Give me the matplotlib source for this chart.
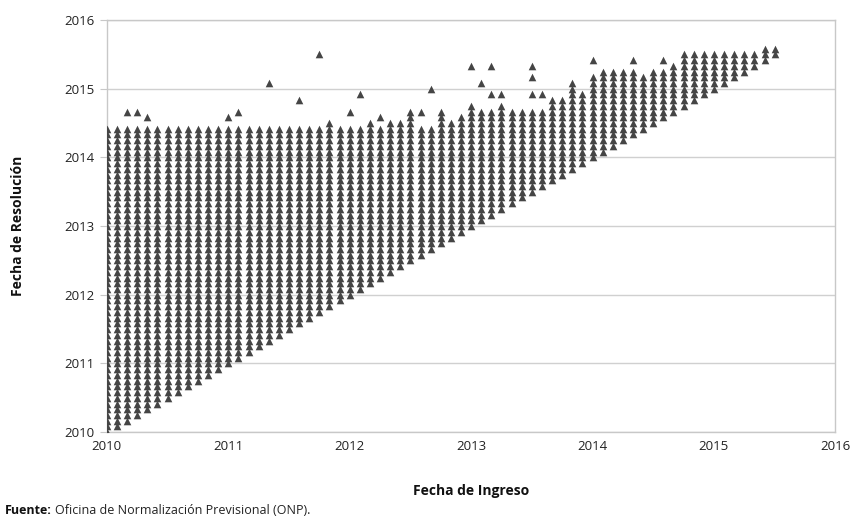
import matplotlib
matplotlib.use("Agg")
import matplotlib.pyplot as plt
import numpy as np

plt.rcParams['font.family'] = ['Open Sans', 'DejaVu Sans']

# Entry month of each column (months since Jan 2010)
ingreso_mes = list(range(0, 67))
# Latest resolution month reached by each entry month (months since Jan 2010)
resol_max_mes = [53, 53, 53, 53, 53, 53, 53, 53, 53, 53, 53, 53,
                 53, 53, 53, 53, 53, 53, 53, 53, 53, 53, 54, 53,
                 53, 53, 54, 53, 54, 54, 56, 53, 53, 56, 54, 55,
                 57, 56, 56, 57, 56, 56, 56, 56, 58, 58, 61, 59,
                 62, 63, 63, 63, 63, 62, 63, 63, 64, 66, 66, 66,
                 66, 66, 66, 66, 66, 67, 67]
# Isolated late resolutions (entry month, resolution month)
aislado_ingreso = [2, 3, 4, 12, 13, 16, 19, 21, 24, 25, 27, 31, 32,
                   36, 37, 38, 38, 39, 42, 42, 42, 43, 48, 52, 55]
aislado_resol = [56, 56, 55, 55, 56, 61, 58, 66, 56, 59, 55, 56, 60,
                 64, 61, 64, 59, 59, 64, 62, 59, 59, 65, 65, 65]

anio_base = 2010
ticks_anios = [2010, 2011, 2012, 2013, 2014, 2015, 2016]

xs, ys = [], []
for m, top in zip(ingreso_mes, resol_max_mes):
    for k in range(m, top + 1):
        xs.append(anio_base + m / 12)
        ys.append(anio_base + k / 12)
for m, k in zip(aislado_ingreso, aislado_resol):
    xs.append(anio_base + m / 12)
    ys.append(anio_base + k / 12)

fig = plt.figure(figsize=(8.55, 5.2), dpi=100)
ax = fig.add_axes([0.125, 0.169, 0.852, 0.7925])

ax.scatter(xs, ys, marker='^', s=30, color='#454545', linewidths=0, zorder=3)

ax.set_xlim(2010, 2016)
ax.set_ylim(2010, 2016)
ax.set_xticks(ticks_anios)
ax.set_yticks(ticks_anios)
ax.set_xticklabels([str(t) for t in ticks_anios])
ax.set_yticklabels([str(t) for t in ticks_anios])
ax.grid(axis='y', color='#d0d0d0', linewidth=1.0, zorder=0)
for s in ax.spines.values():
    s.set_color('#c8c8c8')
    s.set_linewidth(1.0)
ax.tick_params(axis='y', length=5, color='#c8c8c8', labelsize=9.5,
               labelcolor='#222222', pad=4)
ax.tick_params(axis='x', length=0, labelsize=9.5, labelcolor='#222222', pad=6)

ax.set_xlabel('Fecha de Ingreso', fontsize=10, fontweight='bold',
              color='#111111', labelpad=22)
ax.set_ylabel('Fecha de Resolución', fontsize=10, fontweight='bold',
              color='#111111', labelpad=28)

t1 = fig.text(0.006, 0.005, 'Fuente:', fontsize=9, fontweight='bold',
              color='#111111', ha='left', va='bottom')
fig.canvas.draw()
bb = t1.get_window_extent(renderer=fig.canvas.get_renderer())
fig.text((bb.x1 + 3) / fig.bbox.width, 0.005,
         'Oficina de Normalización Previsional (ONP).',
         fontsize=9, color='#222222', ha='left', va='bottom')

fig.savefig('out.png', dpi=100)
